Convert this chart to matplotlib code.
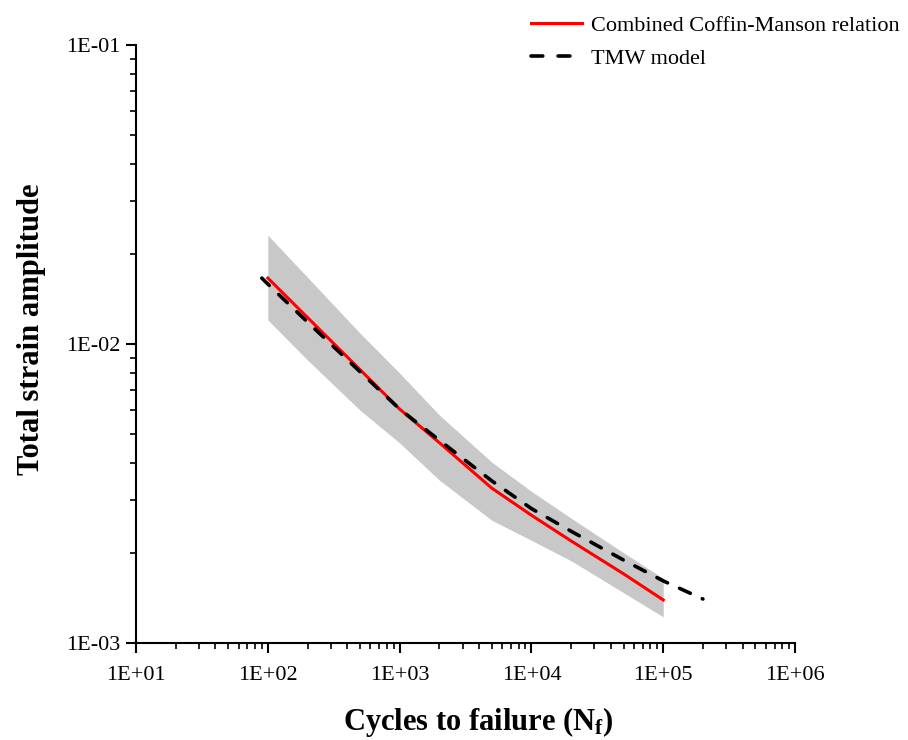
import numpy as np
import matplotlib
matplotlib.use("Agg")
import matplotlib.pyplot as plt
from matplotlib.ticker import LogLocator, FuncFormatter, NullFormatter

plt.rcParams['font.family'] = ['Liberation Serif', 'DejaVu Serif']
plt.rcParams['mathtext.fontset'] = 'custom'
plt.rcParams['mathtext.rm'] = 'Liberation Serif'
plt.rcParams['mathtext.bf'] = 'Liberation Serif:bold'
plt.rcParams['mathtext.it'] = 'Liberation Serif:italic'
plt.rcParams['lines.scale_dashes'] = False

# Combined Coffin-Manson relation
n_cm = [100, 200, 500, 1000, 2000, 5000, 1e4, 2e4, 5e4, 1e5]
eps_cm = [0.0166, 0.01225, 0.0082, 0.00605, 0.00467, 0.00329, 0.00267, 0.00219, 0.00170, 0.00139]

# Scatter band around Coffin-Manson relation
band_upper = [0.0231, 0.0167, 0.01086, 0.00798, 0.00578, 0.00402, 0.00321, 0.00261, 0.00200, 0.00164]
band_lower = [0.01202, 0.00883, 0.00600, 0.00466, 0.00350, 0.00257, 0.00220, 0.00188, 0.00147, 0.00122]

# TMW model
n_tmw = [90, 100, 200, 500, 1000, 2000, 5000, 1e4, 2e4, 5e4, 1e5, 2e5]
eps_tmw = [0.0166, 0.01585, 0.01183, 0.00807, 0.00605, 0.00476, 0.00348, 0.00281, 0.00236, 0.00189, 0.00161, 0.00140]

x_lim = (1e1, 1e6)
y_lim = (1e-3, 1e-1)

fig = plt.figure(figsize=(9.08, 7.40), dpi=100)
ax = fig.add_axes([0.1498, 0.1315, 0.7258, 0.8077])

ax.set_xscale('log')
ax.set_yscale('log')
ax.set_xlim(*x_lim)
ax.set_ylim(*y_lim)

ax.fill_between(n_cm, band_lower, band_upper, color='#c8c8c8', linewidth=0, zorder=1)
ax.plot(n_cm, eps_cm, color='#ff0000', linewidth=2.2, zorder=2,
        label='Combined Coffin-Manson relation')

# dash phase chosen so the dashed curve ends with a short dot, as in the original
on, off = 8.5, 9.5
pts = ax.transData.transform(np.column_stack([n_tmw, eps_tmw]))
length_pt = np.sum(np.hypot(*np.diff(pts, axis=0).T)) * 72.0 / fig.dpi
offset = (0.5 - length_pt) % (on + off)
ax.plot(n_tmw, eps_tmw, color='black', linewidth=2.6,
        linestyle=(offset, (on, off)), dash_capstyle='round', zorder=3,
        label='TMW model')

for s in ['top', 'right']:
    ax.spines[s].set_visible(False)
for s in ['left', 'bottom']:
    ax.spines[s].set_linewidth(1.5)

fmt = FuncFormatter(lambda v, p: f'1E{int(round(np.log10(v))):+03d}')
ax.xaxis.set_major_locator(LogLocator(base=10, numticks=10))
ax.yaxis.set_major_locator(LogLocator(base=10, numticks=10))
ax.xaxis.set_minor_locator(LogLocator(base=10, subs=np.arange(2, 10), numticks=20))
ax.yaxis.set_minor_locator(LogLocator(base=10, subs=np.arange(2, 10), numticks=20))
ax.xaxis.set_major_formatter(fmt)
ax.yaxis.set_major_formatter(fmt)
ax.xaxis.set_minor_formatter(NullFormatter())
ax.yaxis.set_minor_formatter(NullFormatter())
ax.tick_params(which='major', direction='out', length=7, width=1.5, labelsize=16)
ax.tick_params(axis='x', which='major', pad=10)
ax.tick_params(axis='y', which='major', pad=4)
ax.tick_params(which='minor', direction='out', length=4, width=1.2)

ax.set_xlabel(r'Cycles to failure ($\mathbf{N_f}$)', fontsize=22, fontweight='bold', labelpad=14)
ax.set_ylabel('Total strain amplitude', fontsize=22, fontweight='bold', labelpad=15)
ax.xaxis.label.set_x(0.519)
ax.yaxis.label.set_y(0.525)

leg = fig.legend(loc='upper left', bbox_to_anchor=(0.5848, 0.9797), frameon=False,
                 fontsize=16, handlelength=2.3, handletextpad=0.4, labelspacing=0.59,
                 borderpad=0, borderaxespad=0)
leg.get_lines()[1].set_linestyle((0, (8.5, 11)))

fig.savefig('out.png', dpi=100)
